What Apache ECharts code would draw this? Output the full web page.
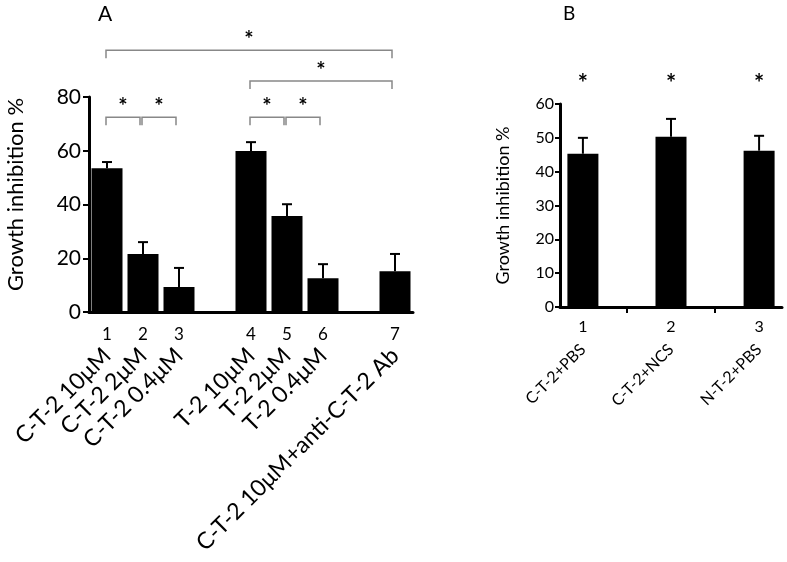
<!DOCTYPE html>
<html>
<head>
<meta charset="utf-8">
<script src="https://cdn.jsdelivr.net/npm/echarts@6/dist/echarts.min.js"></script>
<style>
  html, body { margin: 0; padding: 0; background: #fff; }
  #main { width: 787px; height: 562px; }
</style>
</head>
<body>
<div id="main"></div>
<script>
// panel A
const catsA = ['1', '2', '3', '', '4', '5', '6', '', '7'];
const namesA = ['C-T-2 10μM', 'C-T-2 2μM', 'C-T-2 0.4μM', '', 'T-2 10μM', 'T-2 2μM', 'T-2 0.4μM', '', 'C-T-2 10μM+anti-C-T-2 Ab'];
const valuesA = [53.5, 21.6, 9.3, null, 59.9, 35.7, 12.6, null, 15.2];
const errA = [2.3, 4.4, 7.1, null, 3.3, 4.4, 5.2, null, 6.4];
const ticksA = [0, 20, 40, 60, 80];
// significance brackets: [from index, to index, height]
const bracketsA = [[0, 1, 72.5], [1, 2, 72.5], [4, 5, 72.5], [5, 6, 72.5], [4, 8, 86], [0, 8, 97.4]];

// panel B
const posB = [1, 2, 3];
const namesB = ['C-T-2+PBS', 'C-T-2+NCS', 'N-T-2+PBS'];
const valuesB = [45.3, 50.3, 46.2];
const errB = [4.7, 5.3, 4.4];
const starHeightB = 67.2;

const FONT = 'Lato';
const chart = echarts.init(document.getElementById('main'));

function errorBars(api) {
  const top = api.coord([api.value(0), api.value(1) + api.value(2)]);
  const base = api.coord([api.value(0), api.value(1)]);
  const st = { stroke: '#000', lineWidth: 2 };
  return {
    type: 'group',
    children: [
      { type: 'line', shape: { x1: base[0], y1: base[1], x2: top[0], y2: top[1] }, style: st },
      { type: 'line', shape: { x1: top[0] - 5, y1: top[1], x2: top[0] + 5, y2: top[1] }, style: st }
    ]
  };
}

function bracket(params, api) {
  const a = api.coord([api.value(0), api.value(2)]);
  const b = api.coord([api.value(1), api.value(2)]);
  const leg = api.coord([api.value(0), api.value(2) - 3])[1];
  const x1 = a[0] - 1, x2 = b[0] - 3;
  const st = { stroke: '#888', lineWidth: 1.5, fill: null };
  return {
    type: 'group',
    children: [
      { type: 'polyline', shape: { points: [[x1, leg], [x1, a[1]], [x2, a[1]], [x2, leg]] }, style: st },
      { type: 'text', style: { text: '*', x: (x1 + x2) / 2, y: a[1] - 10, align: 'center', verticalAlign: 'middle', fontSize: 22, fontWeight: 'bold', fontFamily: FONT, fill: '#000' } }
    ]
  };
}

const option = {
  animation: false,
  textStyle: { fontFamily: FONT, color: '#000' },
  graphic: [
    { type: 'text', left: 98, top: 4, style: { text: 'A', fontSize: 21, fontFamily: FONT, fill: '#000' } },
    { type: 'text', left: 563, top: 4, style: { text: 'B', fontSize: 19, fontFamily: FONT, fill: '#000' } }
  ],
  grid: [
    { left: 89, top: 97, width: 324, height: 215 },
    { left: 560, top: 104, width: 222, height: 203 }
  ],
  xAxis: [
    {
      gridIndex: 0, type: 'category', data: catsA, position: 'bottom',
      axisLine: { lineStyle: { color: '#000', width: 3 } },
      axisTick: { alignWithLabel: true, interval: 0, length: 8, lineStyle: { color: '#000', width: 2 } },
      axisLabel: { interval: 0, fontSize: 17, margin: 14, color: '#000' }
    },
    {
      gridIndex: 0, type: 'category', data: namesA, position: 'bottom', offset: 0,
      axisLine: { show: false }, axisTick: { show: false },
      axisLabel: { interval: 0, rotate: 45, fontSize: 23, margin: 40, color: '#000' }
    },
    {
      gridIndex: 1, type: 'value', min: 0.74, max: 3.26, position: 'bottom',
      splitLine: { show: false },
      axisLine: { onZero: false, lineStyle: { color: '#000', width: 3 } },
      axisTick: { customValues: [1.5, 2.5], length: 6, lineStyle: { color: '#000', width: 2 } },
      axisLabel: { customValues: posB, fontSize: 16, margin: 12, color: '#000' }
    },
    {
      gridIndex: 1, type: 'value', min: 0.74, max: 3.26, position: 'bottom', offset: 0,
      splitLine: { show: false }, axisLine: { show: false }, axisTick: { show: false },
      axisLabel: { customValues: posB, rotate: 45, fontSize: 16, margin: 40, color: '#000',
        formatter: v => namesB[Math.round(v) - 1] }
    }
  ],
  yAxis: [
    {
      gridIndex: 0, type: 'value', min: 0, max: 80, interval: 20,
      name: 'Growth inhibition %', nameLocation: 'middle', nameGap: 62,
      nameTextStyle: { fontSize: 22, color: '#000', padding: [0, 0, 0, 20] },
      splitLine: { show: false },
      axisLine: { show: true, lineStyle: { color: '#000', width: 3 } },
      axisTick: { show: true, length: 6, lineStyle: { color: '#000', width: 2 } },
      axisLabel: { fontSize: 21, margin: 8, color: '#000', customValues: ticksA }
    },
    {
      gridIndex: 1, type: 'value', min: 0, max: 60, interval: 10,
      name: 'Growth inhibition %', nameLocation: 'middle', nameGap: 48,
      nameTextStyle: { fontSize: 18, color: '#000' },
      splitLine: { show: false },
      axisLine: { show: true, lineStyle: { color: '#000', width: 3 } },
      axisTick: { show: true, length: 5, lineStyle: { color: '#000', width: 2 } },
      axisLabel: { fontSize: 16, margin: 6, color: '#000' }
    }
  ],
  series: [
    {
      type: 'bar', xAxisIndex: 0, yAxisIndex: 0, data: valuesA,
      barWidth: 31, itemStyle: { color: '#000' }
    },
    {
      type: 'custom', xAxisIndex: 0, yAxisIndex: 0,
      data: valuesA.map((v, i) => v == null ? null : [i, v, errA[i]]).filter(d => d),
      renderItem: (params, api) => errorBars(api), z: 1
    },
    {
      type: 'custom', xAxisIndex: 0, yAxisIndex: 0, clip: false,
      data: bracketsA, encode: { x: 0, y: 2 }, renderItem: bracket
    },
    {
      type: 'bar', xAxisIndex: 2, yAxisIndex: 1,
      data: valuesB.map((v, i) => [posB[i], v]),
      barWidth: 31, itemStyle: { color: '#000' }
    },
    {
      type: 'custom', xAxisIndex: 2, yAxisIndex: 1,
      data: valuesB.map((v, i) => [posB[i], v, errB[i]]),
      renderItem: (params, api) => errorBars(api), z: 1
    },
    {
      type: 'custom', xAxisIndex: 2, yAxisIndex: 1, clip: false,
      data: posB.map(p => [p, starHeightB]),
      renderItem: (params, api) => {
        const p = api.coord([api.value(0), api.value(1)]);
        return { type: 'text', style: { text: '*', x: p[0], y: p[1] + 5, align: 'center', verticalAlign: 'middle', fontSize: 24, fontWeight: 'bold', fontFamily: FONT, fill: '#000' } };
      }
    }
  ]
};

chart.setOption(option);
window.addEventListener('resize', () => chart.resize());
</script>
</body>
</html>
